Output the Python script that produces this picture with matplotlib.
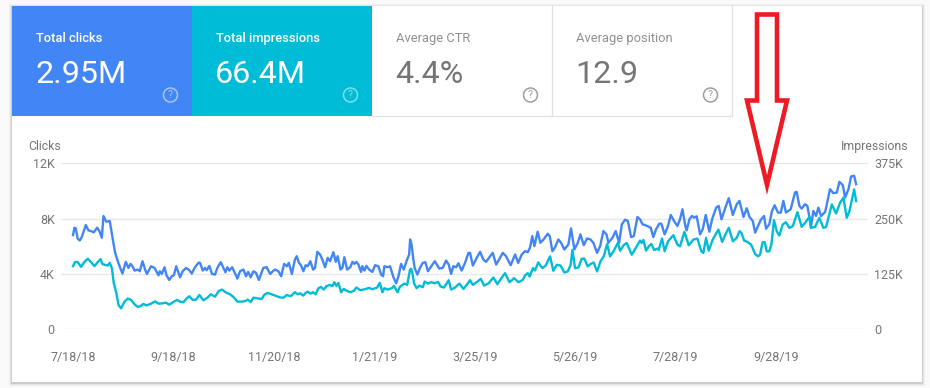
import matplotlib
matplotlib.use("Agg")
import matplotlib.pyplot as plt
from matplotlib.patches import Rectangle, Circle, Polygon

plt.rcParams['font.family'] = ['Roboto', 'DejaVu Sans']

# ---- data ----
tile_titles = ["Total clicks", "Total impressions", "Average CTR", "Average position"]
tile_values = ["2.95M", "66.4M", "4.4%", "12.9"]
date_labels = ["7/18/18", "9/18/18", "11/20/18", "1/21/19", "3/25/19", "5/26/19", "7/28/19", "9/28/19"]
date_ticks = [0, 62, 124, 186, 248, 310, 372, 434]
click_ticks = [0, 4000, 8000, 12000]
click_labels = ["0", "4K", "8K", "12K"]
impression_ticks = [0, 125, 250, 375]
impression_labels = ["0", "125K", "250K", "375K"]

click_days = [
    0.0, 0.9, 1.7, 2.9, 4.2, 5.4, 7.9, 9.5, 11.2, 12.8, 14.9, 16.3, 17.8, 18.8, 20.6, 22.7, 24.4, 26.0, 28.0, 30.5,
    32.6, 34.2, 35.5, 36.7, 38.0, 40.0, 41.2, 42.9, 44.5, 45.6, 48.2, 50.3, 52.8, 53.6, 54.8, 56.5, 57.7, 59.4, 61.0, 62.3,
    63.7, 66.1, 67.7, 69.8, 71.8, 73.3, 75.3, 77.6, 78.4, 80.1, 81.5, 82.5, 84.2, 85.8, 87.7, 89.1, 91.2, 92.8, 94.1, 95.3,
    96.5, 98.2, 99.4, 101.5, 103.1, 105.2, 106.8, 108.1, 109.7, 111.4, 113.0, 114.7, 116.3, 117.5, 119.6, 121.7, 123.3, 124.8, 126.8, 128.5,
    130.3, 132.0, 133.2, 135.1, 137.0, 138.1, 139.5, 140.7, 142.2, 143.6, 144.9, 146.5, 148.2, 149.4, 150.8, 152.5, 153.9, 155.6, 157.2, 158.7,
    160.7, 162.2, 163.4, 165.1, 166.3, 167.5, 169.2, 171.2, 172.5, 173.7, 174.9, 176.2, 177.8, 178.6, 179.9, 181.1, 182.8, 184.8, 186.5, 188.5,
    190.2, 191.4, 192.2, 194.3, 195.7, 197.8, 199.5, 200.9, 202.5, 204.2, 206.0, 207.5, 208.1, 209.0, 210.1, 210.9, 212.6, 214.2, 215.9, 217.5,
    219.1, 221.2, 223.3, 226.1, 228.2, 230.3, 231.9, 233.4, 234.8, 236.5, 237.9, 239.9, 242.0, 244.1, 245.1, 246.8, 249.2, 251.3, 253.3, 255.0,
    257.5, 259.1, 261.2, 263.6, 265.3, 267.3, 270.2, 272.9, 274.8, 277.0, 279.0, 280.7, 282.1, 283.5, 284.8, 286.8, 288.5, 290.5, 293.0, 294.3,
    295.9, 297.6, 299.6, 301.3, 303.3, 305.8, 307.4, 309.5, 311.6, 313.2, 315.3, 317.3, 319.4, 321.2, 323.5, 325.4, 327.4, 329.3, 330.5, 333.0,
    335.0, 337.1, 338.8, 340.8, 342.5, 344.5, 346.2, 348.4, 350.0, 351.6, 352.9, 354.5, 356.6, 358.2, 359.9, 361.9, 363.2, 365.2, 367.3, 369.0,
    371.0, 373.1, 374.7, 376.2, 378.0, 378.8, 380.5, 382.1, 383.4, 385.0, 387.1, 388.7, 390.6, 392.8, 394.5, 397.0, 398.6, 400.3, 402.7, 404.8,
    407.3, 409.7, 411.4, 413.9, 415.9, 417.6, 419.6, 421.1, 422.4, 424.5, 426.6, 427.8, 429.8, 431.5, 433.1, 435.2, 436.9, 438.5, 440.1, 443.0,
    445.7, 446.7, 448.4, 449.8, 451.9, 453.3, 455.6, 457.0, 458.7, 460.1, 461.8, 464.3, 467.3, 469.4, 471.5, 473.1, 475.2, 476.6, 478.7, 480.3,
    482.2, 483.4,
]
clicks = [
    6810, 7343, 7295, 6544, 6423, 6665, 7537, 7149, 7100, 7004, 7343, 7100, 6617, 8190, 7778, 7827, 6617, 5528, 4800, 4028,
    4875, 4440, 4730, 4560, 4245, 4318, 4197, 4923, 4318, 4000, 4560, 4440, 3907, 4197, 4000, 4487, 3907, 3568, 3834, 3907,
    4560, 3761, 4197, 4439, 4270, 4028, 4487, 4826, 4802, 4245, 4439, 4270, 4584, 4003, 3955, 4439, 4850, 4439, 4124, 4487,
    4245, 4487, 4197, 3665, 4197, 4318, 3834, 4149, 3761, 4197, 4076, 3568, 4076, 4439, 4487, 4003, 4197, 4318, 4197, 3834,
    4729, 4560, 4802, 4003, 5044, 5286, 4802, 4633, 4197, 4633, 4560, 4923, 4318, 4439, 5601, 5407, 5044, 4487, 5165, 4923,
    5576, 4875, 5286, 4318, 4439, 5213, 4318, 4487, 4875, 4729, 4875, 4681, 4149, 4560, 4245, 4584, 4318, 4149, 4633, 4560,
    3955, 3834, 4560, 4487, 4560, 3761, 3326, 3834, 4729, 4318, 4971, 5407, 6496, 6133, 5044, 4439, 3955, 4439, 4802, 4850,
    4197, 4560, 4923, 4391, 4439, 4971, 4681, 4003, 4560, 4487, 4778, 4245, 4802, 5528, 5528, 4608, 5165, 5601, 5044, 4875,
    5286, 5528, 4681, 5165, 5528, 5286, 4633, 5407, 4802, 5407, 5649, 5576, 5891, 6738, 6012, 7053, 6254, 6496, 6907, 6738,
    5649, 5939, 6496, 6254, 5770, 6133, 7295, 5770, 6254, 6859, 6085, 6569, 6496, 6254, 5528, 6012, 7101, 6859, 6254, 6617,
    7101, 6254, 7585, 7924, 7827, 6665, 6738, 8117, 7951, 7588, 7540, 7467, 7346, 6668, 7225, 7636, 7636, 6862, 7467, 8266,
    7830, 7467, 7951, 8677, 7467, 7152, 7951, 8193, 8072, 8169, 6862, 7225, 8266, 7056, 7951, 8798, 8919, 7951, 8798, 9476,
    8266, 9040, 9282, 8120, 8750, 8120, 7830, 6983, 7346, 7903, 8193, 7273, 7588, 8556, 8967, 8435, 8435, 9282, 8435, 8677,
    9887, 9935, 8919, 8725, 9040, 8919, 7467, 8556, 8193, 8798, 8193, 8483, 10129, 9839, 9887, 10661, 10419, 9524, 10129, 11049,
    11097, 10492,
]

impression_days = [
    0.0, 1.3, 2.9, 5.0, 7.0, 9.1, 11.2, 13.2, 15.3, 17.0, 18.2, 20.2, 21.5, 22.7, 24.0, 25.2, 26.8, 28.1, 29.7, 31.8,
    33.8, 35.9, 38.0, 40.0, 42.1, 43.3, 45.4, 48.2, 50.7, 52.8, 55.3, 57.3, 59.4, 62.3, 64.3, 66.1, 68.1, 70.2, 71.8, 73.9,
    76.0, 78.0, 80.5, 83.0, 85.0, 87.7, 90.0, 92.0, 94.1, 97.0, 99.4, 101.5, 104.2, 106.6, 107.9, 109.7, 111.4, 113.8, 116.5, 118.0,
    120.0, 122.7, 125.8, 128.3, 130.0, 132.0, 134.4, 137.0, 138.7, 140.3, 142.0, 143.6, 144.9, 146.5, 148.2, 149.8, 151.5, 153.1, 154.8, 156.4,
    158.5, 160.1, 161.3, 162.6, 163.8, 165.5, 167.1, 169.2, 171.2, 173.3, 174.9, 177.4, 180.7, 182.8, 184.8, 187.7, 189.4, 191.0, 192.2, 194.3,
    196.8, 198.2, 200.3, 201.9, 204.6, 206.3, 208.0, 208.8, 209.7, 210.5, 212.1, 213.8, 215.9, 217.1, 219.1, 221.2, 223.3, 225.3, 227.0, 229.0,
    231.9, 233.4, 235.8, 238.5, 241.0, 243.0, 245.1, 246.8, 249.2, 251.7, 253.8, 256.6, 259.5, 262.0, 264.7, 266.7, 269.4, 272.3, 275.0, 277.7,
    279.0, 280.7, 281.9, 283.9, 285.2, 287.2, 289.7, 291.8, 294.5, 296.5, 298.6, 300.9, 303.3, 305.4, 307.2, 308.3, 309.9, 312.0, 314.0, 315.7,
    317.7, 319.4, 321.4, 323.5, 325.6, 327.6, 329.7, 331.5, 333.6, 336.3, 337.7, 339.8, 341.8, 344.9, 348.0, 350.0, 351.0, 352.1, 353.7, 355.4,
    357.0, 358.7, 360.7, 361.5, 363.6, 365.2, 367.3, 370.6, 373.1, 374.7, 377.4, 380.1, 383.0, 385.4, 387.9, 389.1, 390.8, 392.4, 394.9, 398.4,
    400.7, 402.7, 404.8, 407.3, 409.7, 411.4, 412.6, 414.3, 416.3, 418.6, 421.1, 422.8, 424.1, 425.7, 427.0, 428.2, 429.8, 431.1, 432.7, 434.4,
    436.0, 438.1, 440.1, 442.2, 444.3, 447.2, 449.8, 451.9, 454.6, 455.4, 458.1, 460.7, 463.2, 464.9, 468.4, 471.0, 473.5, 475.6, 477.6, 479.3,
    482.2, 483.4,
]
impressions_k = [
    142.7, 151.8, 151.8, 141.2, 151.8, 159.4, 151.8, 142.7, 151.8, 158.6, 147.3, 145.0, 144.2, 150.3, 138.2, 104.0, 81.4, 54.9, 47.3, 62.5,
    69.3, 66.3, 56.4, 50.4, 53.4, 57.2, 54.1, 57.9, 63.2, 57.9, 58.7, 60.2, 55.7, 62.5, 66.3, 62.5, 61.0, 70.0, 74.6, 66.3,
    67.0, 77.6, 65.5, 71.6, 79.1, 73.8, 86.7, 89.7, 83.7, 79.1, 71.6, 62.5, 62.5, 64.0, 67.0, 61.7, 71.6, 70.0, 68.5, 77.6,
    82.2, 79.1, 74.6, 71.6, 71.6, 77.6, 74.6, 83.7, 79.1, 81.4, 76.1, 82.2, 85.2, 80.6, 83.7, 79.1, 92.8, 95.8, 89.7, 97.3,
    100.3, 97.3, 106.4, 98.0, 104.9, 83.7, 91.2, 86.7, 83.7, 86.7, 94.3, 88.2, 91.2, 93.5, 90.5, 94.3, 104.9, 83.7, 92.8, 89.7,
    92.8, 98.0, 83.7, 96.5, 103.3, 100.3, 134.4, 136.7, 123.0, 104.0, 92.8, 98.8, 95.0, 107.9, 103.3, 106.4, 104.0, 107.1, 96.5, 94.3,
    110.9, 89.7, 94.3, 103.3, 91.2, 100.3, 110.9, 100.3, 106.4, 113.9, 98.8, 104.0, 117.0, 101.8, 117.0, 126.8, 106.4, 115.5, 106.4, 111.7,
    121.5, 126.8, 119.2, 138.2, 132.9, 151.0, 138.2, 144.2, 164.7, 132.1, 145.7, 144.2, 128.3, 130.6, 145.7, 179.8, 138.2, 139.7, 159.4, 159.4,
    142.0, 147.3, 151.0, 130.6, 153.3, 164.7, 192.7, 164.7, 176.0, 195.0, 177.5, 189.6, 195.0, 168.4, 187.4, 200.4, 195.1, 201.9, 177.7, 187.5,
    192.8, 179.2, 182.2, 179.2, 205.0, 176.2, 198.9, 212.5, 191.3, 187.5, 220.1, 189.8, 202.7, 205.0, 176.2, 172.4, 206.5, 177.7, 202.7, 225.4,
    197.4, 214.0, 229.2, 198.9, 206.5, 221.6, 217.8, 200.4, 197.4, 191.3, 170.1, 164.8, 168.6, 196.6, 196.6, 176.1, 176.1, 191.3, 246.5, 221.6,
    211.7, 236.7, 242.0, 229.1, 232.9, 264.7, 231.4, 240.5, 254.1, 229.1, 231.4, 251.8, 229.1, 231.4, 282.1, 261.7, 285.9, 297.3, 251.8, 267.0,
    316.2, 289.7,
]

# ---- colours ----
BLUE = "#4285f4"
TEAL = "#00bcd6"
TEXT = "#757575"
GRID = "#e8e8e8"
W, H = 930, 388

fig = plt.figure(figsize=(W / 100, H / 100), dpi=100, facecolor="#f9f9f9")

# page chrome in pixel coordinates
bg = fig.add_axes([0, 0, 1, 1], zorder=0)
bg.set_xlim(0, W)
bg.set_ylim(H, 0)
bg.axis("off")

for grow, alpha in [(3, 0.03), (2, 0.05), (1, 0.10)]:
    bg.add_patch(Rectangle((12 - grow, 6 - grow + 1), 910 + 2 * grow, 376 + 2 * grow,
                           facecolor="black", alpha=alpha, edgecolor="none"))
bg.add_patch(Rectangle((12, 6), 910, 376, facecolor="white", edgecolor="none"))

tile_left = [12, 192, 372, 552]
tile_fill = [BLUE, TEAL, "white", "white"]
for i in range(4):
    x0 = tile_left[i]
    colored = i < 2
    bg.add_patch(Rectangle((x0, 6), 180, 110, facecolor=tile_fill[i], edgecolor="none"))
    if not colored:
        bg.plot([x0, x0 + 180, x0 + 180], [116, 116, 6], color="#e0e0e0", lw=0.9, solid_joinstyle="miter")
    bg.text(x0 + 23.7, 38.3, tile_titles[i], color="white" if colored else "#909090",
            fontsize=9.3, weight="medium" if colored else "normal", va="center", ha="left")
    bg.text(x0 + 23, 74.5, tile_values[i], color="white" if colored else TEXT,
            fontsize=23.2, va="center", ha="left")
    icon = "#a6c4fa" if i == 0 else ("#80dfeb" if i == 1 else "#9e9e9e")
    bg.add_patch(Circle((x0 + 158.5, 95), 7, facecolor="none", edgecolor=icon, lw=1.1))
    bg.text(x0 + 158.5, 95.3, "?", color=icon, fontsize=7.5, ha="center", va="center")

# chart: clicks on the left scale, impressions on the right scale
AX_L, AX_R, AX_T, AX_B = 61, 868, 163.3, 329.3
ax = fig.add_axes([AX_L / W, 1 - AX_B / H, (AX_R - AX_L) / W, (AX_B - AX_T) / H], zorder=1)
ax.patch.set_alpha(0)
ax.set_xlim((AX_L - 73) / 1.62, (AX_R - 73) / 1.62)
ax.set_ylim(0, 12000)
ax.set_xticks(date_ticks, date_labels)
ax.set_yticks(click_ticks, click_labels)
ax.grid(axis="y", color=GRID, lw=1.0)
ax.set_axisbelow(True)
ax.plot(click_days, clicks, color=BLUE, lw=1.7, solid_joinstyle="round")
for s in ax.spines.values():
    s.set_visible(False)
ax.tick_params(axis="both", length=0, labelcolor=TEXT, labelsize=9)
ax.tick_params(axis="x", pad=15.5)
ax.tick_params(axis="y", pad=4.5)

ax2 = ax.twinx()
ax2.set_zorder(2)
ax2.patch.set_alpha(0)
ax2.set_ylim(0, 375)
ax2.set_yticks(impression_ticks, impression_labels)
ax2.plot(impression_days, impressions_k, color=TEAL, lw=1.7, solid_joinstyle="round")
for s in ax2.spines.values():
    s.set_visible(False)
ax2.tick_params(axis="y", length=0, labelcolor=TEXT, labelsize=9, pad=4.5)

# top overlay: axis captions and red arrow
top = fig.add_axes([0, 0, 1, 1], zorder=5)
top.set_xlim(0, W)
top.set_ylim(H, 0)
top.axis("off")
top.text(28, 146.5, "Clicks", color=TEXT, fontsize=8.8, ha="left", va="center")
top.text(908, 146.5, "Impressions", color=TEXT, fontsize=8.8, ha="right", va="center")
top.add_patch(Polygon([(757, 14.5), (777, 14.5), (777, 100.5), (787, 100.5), (767, 185),
                       (747, 100.5), (757, 100.5)], closed=True, facecolor="none",
                      edgecolor="#ed1c24", lw=3.3, joinstyle="miter"))

fig.savefig("out.png", dpi=100, facecolor=fig.get_facecolor())
